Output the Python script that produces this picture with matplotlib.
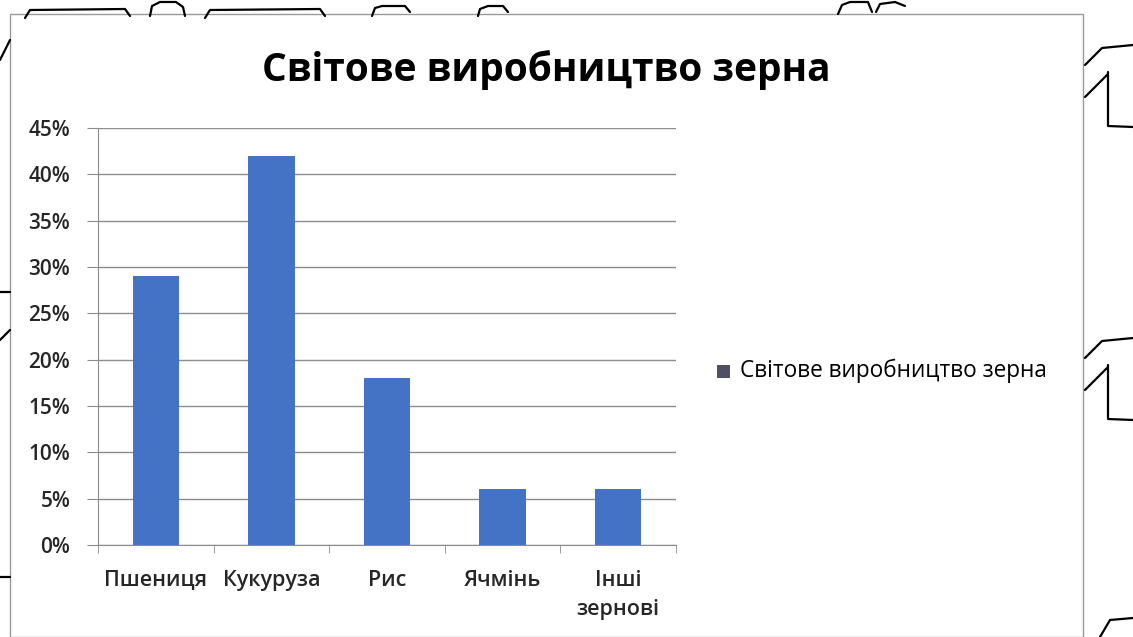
import matplotlib.pyplot as plt
import matplotlib.patches as mpatches
from matplotlib.lines import Line2D
from matplotlib.ticker import FuncFormatter, FixedLocator

plt.rcParams["font.family"] = ["Open Sans", "DejaVu Sans"]

title = "Світове виробництво зерна"
categories = ["Пшениця", "Кукуруза", "Рис", "Ячмінь", "Інші\nзернові"]
shares = [0.29, 0.42, 0.18, 0.06, 0.06]
y_ticks = [0.00, 0.05, 0.10, 0.15, 0.20, 0.25, 0.30, 0.35, 0.40, 0.45]

W, H = 1133, 637
BAR_COLOR = "#4472C4"
GRID_COLOR = "#8c8c8c"
TEXT_COLOR = "#262626"

fig = plt.figure(figsize=(W / 100, H / 100), dpi=100)
fig.patch.set_facecolor("white")


def px(x, y):
    # pixel coords (top-left origin) -> figure fraction
    return x / W, 1 - y / H


# sketchy slide decoration around the chart frame
def stroke(points, lw=1.6):
    xs, ys = zip(*[px(x, y) for x, y in points])
    fig.add_artist(Line2D(xs, ys, color="black", lw=lw, solid_capstyle="round"))


stroke([(25, 18), (30, 10), (125, 9), (130, 16)])
stroke([(205, 18), (210, 10), (320, 9), (325, 16)])
stroke([(150, 16), (152, 6), (160, 2), (176, 2), (183, 7), (185, 16)])
stroke([(372, 16), (375, 8), (382, 6), (405, 6), (410, 12)])
stroke([(478, 16), (480, 9), (488, 6), (503, 6), (508, 12)])
stroke([(838, 14), (842, 5), (850, 2), (868, 2), (872, 12)])
stroke([(876, 12), (880, 4), (895, 2), (905, 6)])
stroke([(0, 60), (10, 40)])
stroke([(0, 292), (10, 292)])
stroke([(0, 340), (10, 330)])
stroke([(0, 577), (10, 577)])
for y0 in (40, 333):
    stroke([(1085, y0 + 25), (1102, y0 + 8), (1133, y0 + 5)])
    stroke([(1085, y0 + 57), (1108, y0 + 34)])
    stroke([(1108, y0 + 32), (1108, y0 + 86), (1133, y0 + 87)])
stroke([(1100, 637), (1110, 620), (1133, 618)])

# chart frame
fig.add_artist(mpatches.Rectangle(px(10, 637), 1073 / W, 623 / H,
                                  transform=fig.transFigure, fill=False,
                                  edgecolor="#9a9a9a", lw=1.0))

left, top = px(98, 128)
right, bottom = px(676, 545)
ax = fig.add_axes([left, bottom, right - left, top - bottom])

x = range(len(categories))
ax.bar(x, shares, width=0.4, color=BAR_COLOR, zorder=3)

ax.set_xlim(-0.5, len(categories) - 0.5)
ax.set_ylim(0, 0.45)
ax.yaxis.set_major_locator(FixedLocator(y_ticks))
ax.yaxis.set_major_formatter(FuncFormatter(lambda v, _: f"{v * 100:.0f}%"))
ax.yaxis.grid(True, color=GRID_COLOR, lw=1.0, zorder=0)

ax.set_xticks(list(x))
ax.set_xticklabels(categories, fontsize=15.5, color=TEXT_COLOR,
                   fontweight="semibold", linespacing=1.5)
ax.set_xticks([i - 0.5 for i in range(len(categories) + 1)], minor=True)
ax.tick_params(axis="x", which="major", length=0, pad=18)
ax.tick_params(axis="x", which="minor", length=6, color=GRID_COLOR)
ax.tick_params(axis="y", length=8, color=GRID_COLOR, labelsize=15,
               labelcolor=TEXT_COLOR, pad=12)
for lab in ax.get_yticklabels():
    lab.set_fontweight("semibold")
for lab in ax.get_xticklabels():
    lab.set_verticalalignment("top")

for side in ("top", "right"):
    ax.spines[side].set_visible(False)
for side in ("left", "bottom"):
    ax.spines[side].set_color(GRID_COLOR)
ax.set_facecolor("none")

fig.text(*px(546, 70), title, ha="center", va="center", fontsize=28,
         fontweight="bold", color="black")

# legend
fig.add_artist(mpatches.Rectangle(px(717, 378), 13 / W, 13 / H,
                                  transform=fig.transFigure,
                                  facecolor="#505064", edgecolor="none"))
fig.text(*px(740, 371), title, ha="left", va="center", fontsize=16.3,
         color="black")

fig.savefig("out.png", dpi=100)
